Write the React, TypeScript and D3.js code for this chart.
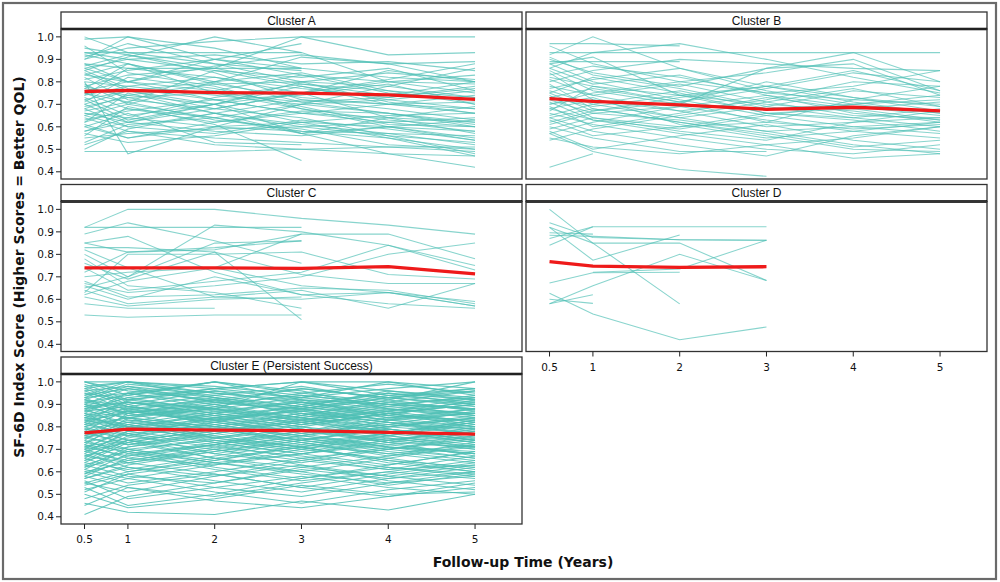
import React from "react";
import * as d3 from "d3";

const times = [0.5, 1, 2, 3, 4, 5];
const xTicks = [0.5, 1, 2, 3, 4, 5];
const yTicks = [0.4, 0.5, 0.6, 0.7, 0.8, 0.9, 1.0];
const N = null;

const clusterA: (number | null)[][] = [
  [1.00,0.93,0.88,0.85,N,N],[0.99,1.00,0.90,0.83,0.80,0.79],[0.93,0.93,0.93,0.93,N,N],
  [0.92,0.88,0.80,0.91,0.88,0.89],[0.90,1.00,0.95,0.86,0.82,0.80],[0.88,0.86,0.86,0.86,N,N],
  [0.87,0.92,0.84,0.72,0.70,0.68],[0.86,0.80,0.76,0.83,0.75,0.72],[0.85,0.91,1.00,0.93,0.80,0.75],
  [0.84,0.76,0.70,0.62,0.60,0.55],[0.83,0.88,0.79,0.80,0.78,0.86],[0.82,0.72,0.68,0.75,0.80,0.83],
  [0.81,0.85,0.90,0.97,N,N],[0.80,0.78,0.74,0.70,0.66,0.62],[0.79,0.70,0.64,0.58,0.55,0.50],
  [0.78,0.83,0.86,1.00,0.92,0.93],[0.77,0.74,0.79,0.73,0.70,0.71],[0.76,0.80,0.72,0.66,0.64,0.62],
  [0.75,0.68,0.62,0.66,0.70,0.74],[0.74,0.78,0.82,0.75,0.85,0.80],[0.73,0.65,0.70,0.78,0.72,0.68],
  [0.72,0.76,0.68,0.64,0.56,0.48],[0.71,0.82,0.77,0.69,0.61,0.60],[0.70,0.62,0.58,0.56,0.60,0.58],
  [0.69,0.73,0.75,0.71,0.73,0.77],[0.68,0.60,0.66,0.61,0.57,0.52],[0.67,0.71,0.63,0.59,0.52,0.50],
  [0.66,0.64,0.60,0.62,0.65,0.66],[0.65,0.70,0.80,0.84,0.76,0.70],[0.64,0.58,0.55,0.53,0.51,0.49],
  [0.63,0.67,0.72,0.66,0.62,0.64],[0.62,0.75,0.66,0.57,0.48,0.42],[0.61,0.55,0.60,0.58,0.57,0.56],
  [0.60,0.66,0.53,0.52,N,N],[0.58,0.62,0.68,0.75,0.81,0.88],[0.57,0.53,0.56,0.62,0.55,0.47],
  [0.56,0.69,0.61,0.45,N,N],[0.55,0.57,0.59,0.60,0.56,0.53],[0.53,0.61,0.64,0.70,0.78,0.73],
  [0.52,0.58,0.52,0.50,0.48,0.47],[0.50,0.59,0.66,0.60,0.62,0.58],[0.49,0.49,0.49,0.50,0.51,0.51],
  [0.96,0.84,0.78,0.68,0.63,0.60],[0.91,0.97,0.88,0.80,0.84,0.81],[0.90,0.95,0.98,1.00,1.00,1.00],
  [0.80,0.48,0.60,0.70,0.72,0.76],[0.72,0.63,0.70,0.57,0.64,0.69],[0.68,0.74,0.70,0.80,0.71,0.66],
  [0.86,0.90,0.92,0.88,0.89,0.85],[0.78,0.73,0.66,0.72,0.68,0.63],[0.65,0.60,0.57,0.63,0.59,0.54],
  [0.74,0.86,0.82,0.77,0.73,0.78],[0.93,0.90,0.85,0.78,0.70,0.66],[0.60,0.55,0.62,0.67,0.66,0.60],
  [0.83,0.80,0.87,0.92,0.88,0.80],[0.70,0.76,0.80,0.71,0.66,0.61],[0.77,0.88,0.75,0.68,0.60,0.54],
  [0.62,0.68,0.64,0.57,0.60,0.63],[0.88,0.80,0.90,0.86,N,N],[0.75,0.71,0.85,0.82,0.86,0.76],
  [0.66,0.62,0.70,0.75,0.64,0.57],[0.95,0.92,0.86,0.79,0.76,0.73],[0.85,0.77,0.72,0.74,0.79,0.70],
  [0.58,0.64,0.73,0.79,0.74,0.80],
];

const clusterB: (number | null)[][] = [
  [0.97,0.97,0.96,N,N,N],[0.96,0.88,0.80,0.75,0.72,0.70],[0.92,1.00,0.86,0.76,0.70,0.66],
  [0.93,0.93,0.93,0.93,0.93,0.93],[0.90,0.84,0.78,0.86,0.93,0.80],[0.89,0.89,0.89,N,N,N],
  [0.88,0.80,0.72,0.65,0.60,0.57],[0.86,0.93,0.97,0.90,0.82,0.75],[0.85,0.76,0.70,0.86,0.88,0.74],
  [0.84,0.72,0.64,0.58,0.52,0.48],[0.83,0.87,0.82,0.75,0.78,0.85],[0.82,0.78,0.74,0.70,0.67,0.62],
  [0.80,0.85,0.90,0.88,0.86,0.85],[0.79,0.68,0.62,0.56,0.50,0.49],[0.78,0.74,0.79,0.71,0.65,0.64],
  [0.76,0.70,0.64,0.69,0.76,0.73],[0.75,0.82,0.75,0.66,0.64,0.68],[0.74,0.64,0.60,0.62,0.72,0.78],
  [0.73,0.77,0.71,0.80,0.73,0.67],[0.72,0.66,0.69,0.63,0.58,0.55],[0.71,0.63,0.57,0.52,0.55,0.60],
  [0.70,0.75,0.80,0.84,0.90,0.76],[0.69,0.60,0.66,0.73,0.68,0.63],[0.68,0.72,0.67,0.60,0.62,0.64],
  [0.67,0.78,0.71,0.62,0.59,0.61],[0.66,0.61,0.55,0.50,0.48,0.52],[0.65,0.70,0.76,0.68,0.70,0.72],
  [0.64,0.58,0.52,0.47,0.56,0.60],[0.63,0.56,0.60,0.66,0.63,0.58],[0.62,0.67,0.73,0.78,0.73,0.69],
  [0.61,0.66,0.63,0.58,0.60,0.62],[0.60,0.55,0.49,0.49,N,N],[0.59,0.64,0.58,0.54,0.62,0.67],
  [0.58,0.50,0.56,0.61,0.54,0.50],[0.57,0.62,0.69,0.74,0.66,0.63],[0.55,0.51,0.48,0.52,0.46,0.48],
  [0.54,0.59,0.65,0.71,0.77,0.69],[0.42,0.48,N,N,N,N],[0.57,0.49,0.41,0.38,N,N],
  [0.88,0.91,0.74,0.78,0.85,0.76],[0.91,0.83,0.77,0.69,0.64,0.60],[0.77,0.81,0.86,0.78,0.71,0.66],
  [0.73,0.69,0.74,0.66,0.68,0.71],[0.68,0.63,0.59,0.65,0.70,0.74],[0.81,0.74,0.67,0.72,0.80,0.78],
  [0.64,0.68,0.62,0.57,0.51,0.54],[0.86,0.79,0.83,0.74,0.69,0.65],[0.70,0.73,0.61,0.55,0.58,0.62],
  [0.75,0.67,0.71,0.77,0.84,0.80],
];

const clusterC: (number | null)[][] = [
  [0.92,1.00,1.00,0.96,0.93,0.89],[0.92,0.92,0.92,0.92,N,N],[0.89,0.94,0.86,0.76,N,N],
  [0.85,0.88,0.72,0.62,0.58,0.56],[0.85,0.81,0.82,0.89,0.89,0.78],[0.82,0.74,0.61,0.60,0.63,0.57],
  [0.80,0.70,0.93,0.90,0.84,0.73],[0.78,0.66,0.63,0.56,N,N],[0.76,0.69,0.81,0.71,0.67,0.67],
  [0.74,0.64,0.68,0.72,0.84,0.75],[0.72,0.81,0.83,0.86,N,N],[0.70,0.72,0.74,0.89,N,N],
  [0.68,0.61,0.62,0.65,0.64,0.58],[0.67,0.63,0.66,0.70,0.80,0.85],[0.66,0.60,0.70,0.62,0.63,0.57],
  [0.65,0.70,0.85,0.86,N,N],[0.64,0.58,0.61,0.64,0.56,0.67],[0.63,0.80,0.80,0.81,0.71,0.69],
  [0.61,0.57,0.60,0.61,N,N],[0.58,0.56,0.56,N,N,N],[0.53,0.52,0.53,0.53,N,N],
  [0.62,0.68,0.74,0.66,0.63,0.59],[0.83,0.83,0.81,0.51,N,N],
];

const clusterD: (number | null)[][] = [
  [1.00,0.85,0.58,N,N,N],[0.94,0.875,0.865,0.863,N,N],[0.92,0.774,0.886,N,N,N],
  [0.896,0.89,N,N,N,N],[0.87,0.923,0.923,0.923,N,N],[0.885,0.88,0.865,0.863,N,N],
  [0.84,0.923,N,N,N,N],[0.92,0.85,0.85,0.684,N,N],[0.673,0.718,0.72,N,N,N],
  [0.627,0.535,0.42,0.477,N,N],[0.60,0.582,N,N,N,N],[0.58,0.62,N,N,N,N],
  [0.58,0.66,0.80,0.684,N,N],[N,0.72,0.735,0.863,N,N],
];

const clusterE: (number | null)[][] = [
  [1.00,1.00,0.95,0.92,0.90,0.93],[1.00,0.94,1.00,0.96,0.88,0.86],[0.99,0.92,0.88,1.00,1.00,0.97],
  [0.98,1.00,0.93,0.85,0.92,1.00],[0.97,0.90,0.96,0.93,1.00,0.94],[0.96,0.98,0.91,0.88,0.83,0.86],
  [0.95,0.87,0.82,0.90,0.95,0.92],[0.94,1.00,0.98,0.94,0.90,0.88],[0.93,0.95,0.88,0.81,0.86,0.90],
  [0.92,0.86,0.91,0.97,0.93,0.89],[0.91,0.94,1.00,0.92,0.84,0.80],[0.90,0.83,0.79,0.85,0.91,0.96],
  [0.90,0.97,0.93,0.89,0.96,0.93],[0.89,0.91,0.85,0.80,0.76,0.82],[0.88,0.80,0.86,0.92,0.88,0.84],
  [0.88,0.93,0.97,1.00,0.94,0.91],[0.87,0.89,0.83,0.77,0.81,0.87],[0.86,0.95,0.90,0.84,0.79,0.75],
  [0.86,0.78,0.82,0.88,0.93,0.90],[0.85,0.88,0.92,0.86,0.82,0.79],[0.84,0.90,0.80,0.74,0.70,0.76],
  [0.84,0.81,0.87,0.91,0.85,0.81],[0.83,0.86,0.78,0.82,0.88,0.85],[0.82,0.76,0.84,0.79,0.73,0.71],
  [0.82,0.92,0.96,0.90,0.85,0.92],[0.81,0.84,0.75,0.71,0.77,0.83],[0.80,0.87,0.83,0.88,0.80,0.77],
  [0.80,0.74,0.70,0.76,0.83,0.88],[0.79,0.82,0.89,0.84,0.78,0.74],[0.78,0.88,0.81,0.75,0.71,0.69],
  [0.78,0.72,0.77,0.83,0.87,0.82],[0.77,0.83,0.79,0.73,0.68,0.72],[0.76,0.79,0.86,0.91,0.86,0.80],
  [0.76,0.70,0.74,0.69,0.74,0.78],[0.75,0.81,0.73,0.78,0.84,0.86],[0.74,0.86,0.90,0.82,0.76,0.71],
  [0.74,0.68,0.72,0.80,0.73,0.67],[0.73,0.77,0.68,0.64,0.70,0.75],[0.72,0.84,0.80,0.86,0.79,0.74],
  [0.72,0.66,0.63,0.70,0.76,0.81],[0.71,0.75,0.82,0.77,0.71,0.68],[0.70,0.80,0.76,0.71,0.65,0.62],
  [0.70,0.64,0.69,0.74,0.80,0.84],[0.69,0.73,0.66,0.60,0.66,0.72],[0.68,0.78,0.84,0.79,0.74,0.70],
  [0.68,0.62,0.58,0.65,0.71,0.66],[0.67,0.71,0.77,0.82,0.78,0.73],[0.66,0.76,0.71,0.67,0.62,0.59],
  [0.66,0.60,0.65,0.72,0.68,0.64],[0.65,0.69,0.62,0.57,0.63,0.69],[0.64,0.73,0.79,0.74,0.69,0.65],
  [0.63,0.58,0.55,0.61,0.57,0.60],[0.62,0.67,0.73,0.68,0.74,0.79],[0.61,0.70,0.64,0.59,0.55,0.58],
  [0.60,0.55,0.60,0.66,0.61,0.63],[0.59,0.65,0.70,0.63,0.58,0.54],[0.58,0.53,0.49,0.55,0.60,0.57],
  [0.57,0.62,0.56,0.51,0.57,0.62],[0.56,0.48,0.53,0.58,0.53,0.50],[0.55,0.60,0.66,0.71,0.65,0.60],
  [0.53,0.45,0.50,0.57,0.62,0.58],[0.52,0.57,0.51,0.46,0.52,0.56],[0.50,0.44,0.48,0.54,0.50,0.51],
  [0.48,0.54,0.59,0.53,0.49,0.55],[0.46,0.42,0.41,0.47,0.43,0.50],[0.41,0.49,0.55,0.62,0.58,0.63],
  [0.45,0.53,0.47,0.44,0.49,0.53],[0.98,0.91,0.86,0.82,0.87,0.93],[0.96,0.89,0.94,0.98,0.92,0.87],
  [0.94,0.97,0.91,0.87,0.93,0.97],[0.93,0.85,0.89,0.95,0.99,0.95],[0.92,0.98,0.94,0.89,0.85,0.83],
  [0.91,0.88,0.83,0.87,0.82,0.78],[0.89,0.84,0.90,0.94,0.90,0.88],[0.87,0.93,0.87,0.83,0.89,0.94],
  [0.85,0.79,0.75,0.81,0.86,0.82],[0.84,0.87,0.93,0.88,0.83,0.80],[0.83,0.78,0.83,0.78,0.73,0.77],
  [0.81,0.89,0.85,0.80,0.86,0.90],[0.79,0.76,0.81,0.86,0.82,0.76],[0.77,0.85,0.88,0.84,0.90,0.85],
  [0.75,0.72,0.78,0.73,0.67,0.73],[0.73,0.81,0.75,0.79,0.75,0.70],[0.71,0.67,0.72,0.78,0.82,0.77],
  [0.69,0.77,0.81,0.76,0.72,0.76],[0.67,0.64,0.70,0.65,0.61,0.67],[0.65,0.74,0.68,0.74,0.79,0.74],
  [0.63,0.69,0.75,0.70,0.66,0.61],[0.61,0.57,0.63,0.68,0.72,0.68],[0.59,0.68,0.61,0.56,0.60,0.65],
  [0.57,0.63,0.69,0.75,0.70,0.66],[0.54,0.59,0.64,0.60,0.54,0.59],[1.00,0.96,0.92,0.97,0.93,0.96],
  [0.97,1.00,0.97,0.93,0.97,1.00],[0.95,0.92,0.97,1.00,0.96,0.92],[0.93,0.99,0.95,0.91,0.87,0.91],
  [0.90,0.86,0.92,0.88,0.94,0.97],[0.88,0.91,0.88,0.93,0.89,0.86],[0.86,0.82,0.78,0.84,0.80,0.84],
  [0.85,0.91,0.86,0.81,0.86,0.81],[0.83,0.80,0.85,0.89,0.84,0.88],[0.81,0.77,0.72,0.77,0.81,0.79],
  [0.80,0.84,0.88,0.83,0.77,0.82],[0.77,0.73,0.79,0.74,0.79,0.74],[0.75,0.79,0.84,0.87,0.83,0.79],
  [0.73,0.70,0.65,0.71,0.76,0.72],[0.71,0.78,0.73,0.68,0.73,0.80],[0.69,0.65,0.71,0.76,0.71,0.68],
  [0.67,0.74,0.66,0.62,0.67,0.71],[0.64,0.61,0.67,0.73,0.77,0.73],[0.62,0.71,0.76,0.71,0.64,0.60],
  [0.60,0.64,0.59,0.53,0.59,0.64],[0.58,0.66,0.72,0.66,0.70,0.74],[0.55,0.51,0.58,0.63,0.56,0.52],
  [0.51,0.59,0.53,0.49,0.55,0.60],[0.87,0.84,0.80,0.76,0.80,0.85],[0.89,0.95,1.00,0.95,0.91,0.88],
  [0.92,0.89,0.84,0.89,0.95,0.90],[0.76,0.82,0.77,0.72,0.77,0.83],[0.79,0.74,0.78,0.83,0.78,0.73],
  [0.82,0.87,0.82,0.78,0.74,0.78],[0.70,0.74,0.80,0.85,0.81,0.77],[0.72,0.69,0.64,0.68,0.63,0.69],
  [0.84,0.80,0.74,0.70,0.75,0.71],
];

const meanA = [0.757, 0.762, 0.752, 0.750, 0.742, 0.722];
const meanB = [0.725, 0.713, 0.698, 0.678, 0.687, 0.671];
const meanC = [0.740, 0.740, 0.740, 0.738, 0.745, 0.713];
const meanD = [0.768, 0.748, 0.742, 0.745, N, N];
const meanE = [0.773, 0.790, 0.785, 0.783, 0.775, 0.768];

const panelTitles = ["Cluster A", "Cluster B", "Cluster C", "Cluster D", "Cluster E (Persistent Success)"];

const colX = [61, 526];
const rowY = [12, 184.5, 357];
const panelW = 461;
const headerH = 17;
const plotH = 150;

const TEAL = "#4fbfb5";
const RED = "#ee1a1a";
const TICK_FONT = "'DejaVu Sans', sans-serif";

type Panel = {
  title: string;
  lines: (number | null)[][];
  mean: (number | null)[];
  col: number;
  row: number;
  yAxis: boolean;
  xAxis: boolean;
  opacity: number;
};

const panels: Panel[] = [
  { title: panelTitles[0], lines: clusterA, mean: meanA, col: 0, row: 0, yAxis: true, xAxis: false, opacity: 0.72 },
  { title: panelTitles[1], lines: clusterB, mean: meanB, col: 1, row: 0, yAxis: false, xAxis: false, opacity: 0.68 },
  { title: panelTitles[2], lines: clusterC, mean: meanC, col: 0, row: 1, yAxis: true, xAxis: false, opacity: 0.68 },
  { title: panelTitles[3], lines: clusterD, mean: meanD, col: 1, row: 1, yAxis: false, xAxis: true, opacity: 0.68 },
  { title: panelTitles[4], lines: clusterE, mean: meanE, col: 0, row: 2, yAxis: true, xAxis: true, opacity: 0.85 },
];

function PanelView({ p }: { p: Panel }) {
  const x0 = colX[p.col];
  const top = rowY[p.row];
  const plotTop = top + headerH;
  const plotBottom = plotTop + plotH;
  const x = d3.scaleLinear().domain([0.229, 5.541]).range([x0, x0 + panelW]);
  const y = d3.scaleLinear().domain([0.368, 1.035]).range([plotBottom, plotTop]);
  const line = d3
    .line<number | null>()
    .defined((d) => d != null)
    .x((_, i) => x(times[i]))
    .y((d) => y(d as number));
  return (
    <g>
      {p.lines.map((l, i) => (
        <path key={i} d={line(l) || ""} fill="none" stroke={TEAL} strokeOpacity={p.opacity} strokeWidth={1.05} />
      ))}
      <path d={line(p.mean) || ""} fill="none" stroke={RED} strokeWidth={3.3} strokeLinejoin="round" />
      <rect x={x0} y={top} width={panelW} height={headerH} fill="#fff" stroke="#333" strokeWidth={1.3} />
      <line x1={x0} x2={x0 + panelW} y1={plotTop} y2={plotTop} stroke="#000" strokeWidth={2.4} />
      <text x={x0 + panelW / 2} y={top + 12.8} textAnchor="middle" fontFamily="'Liberation Sans', Arial, sans-serif" fontSize={12} fill="#111">
        {p.title}
      </text>
      <rect x={x0} y={plotTop} width={panelW} height={plotH} fill="none" stroke="#333" strokeWidth={1.3} />
      {p.yAxis &&
        yTicks.map((t) => (
          <g key={t}>
            <line x1={x0 - 5} x2={x0} y1={y(t)} y2={y(t)} stroke="#222" strokeWidth={1} />
            <text x={x0 - 7} y={y(t)} dy="0.35em" textAnchor="end" fontFamily={TICK_FONT} fontSize={10.5} fill="#111">
              {d3.format(".1f")(t)}
            </text>
          </g>
        ))}
      {p.xAxis &&
        xTicks.map((t) => (
          <g key={t}>
            <line x1={x(t)} x2={x(t)} y1={plotBottom} y2={plotBottom + 5} stroke="#222" strokeWidth={1} />
            <text x={x(t)} y={plotBottom + 19} textAnchor="middle" fontFamily={TICK_FONT} fontSize={10.5} fill="#111">
              {String(t)}
            </text>
          </g>
        ))}
    </g>
  );
}

export default function App() {
  return (
    <svg
      width={1000}
      height={582}
      style={{ position: "absolute", left: 0, top: 0, display: "block", background: "#fff" }}
    >
      <rect x={0} y={0} width={1000} height={582} fill="#fff" />
      <rect x={3} y={3} width={993} height={576} fill="none" stroke="#6a6a6a" strokeWidth={2.2} />
      {panels.map((p) => (
        <PanelView key={p.title} p={p} />
      ))}
      <text
        transform="translate(24,267) rotate(-90)"
        textAnchor="middle"
        fontFamily="'DejaVu Sans', sans-serif"
        fontWeight="bold"
        fontSize={14}
        fill="#111"
      >
        SF-6D Index Score (Higher Scores = Better QOL)
      </text>
      <text x={523} y={567} textAnchor="middle" fontFamily="'DejaVu Sans', sans-serif" fontWeight="bold" fontSize={14} fill="#111">
        Follow-up Time (Years)
      </text>
    </svg>
  );
}
